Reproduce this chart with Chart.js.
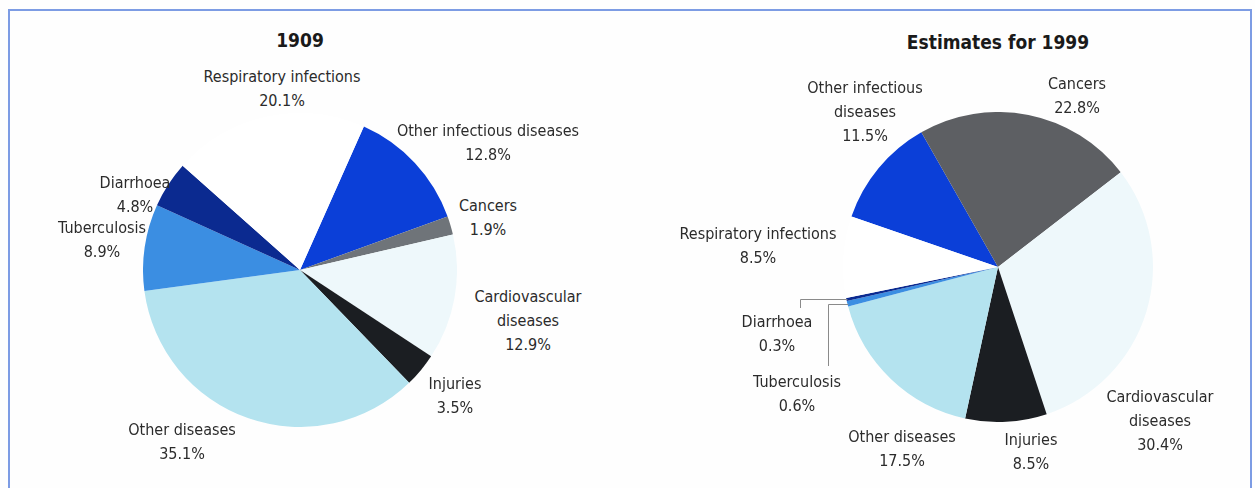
<!DOCTYPE html>
<html>
<head>
<meta charset="utf-8">
<script src="https://cdn.jsdelivr.net/npm/chart.js@4.4.0/dist/chart.umd.min.js"></script>
<style>
    body { margin: 0; background: #fff; }
    #wrap {
        position: relative; width: 1255px; height: 488px; overflow: hidden; background: #fefefe;
        font-family: "Liberation Sans Narrow", "DejaVu Sans Condensed", sans-serif; color: #2b2b2b;
    }
    #frame {
        position: absolute; left: 8px; top: 9px; width: 1240px; height: 600px;
        border: 2px solid #7d9ce4; border-bottom: none;
    }
    canvas { position: absolute; }
    .lbl {
        position: absolute; font-size: 16px; line-height: 24px; text-align: center;
        white-space: nowrap; transform: translateX(-50%);
    }
    .title {
        position: absolute; font-weight: bold; font-size: 19px; color: #1a1a1a;
        white-space: nowrap; transform: translate(-50%, -50%);
    }
</style>
</head>
<body>
<div id="wrap">
    <div id="frame"></div>
    <canvas id="pie1909" width="314" height="314" style="left:143px;top:113px"></canvas>
    <canvas id="pie1999" width="480" height="310" style="left:760px;top:112px"></canvas>
</div>
<script>
// causes of death, in clockwise order from the start angle
const causes = [
    'Other infectious diseases', 'Cancers', 'Cardiovascular diseases', 'Injuries',
    'Other diseases', 'Tuberculosis', 'Diarrhoea', 'Respiratory infections'
];
const share1909 = [12.8, 1.9, 12.9, 3.5, 35.1, 8.9, 4.8, 20.1];
const share1999 = [11.5, 22.8, 30.4, 8.5, 17.5, 0.6, 0.3, 8.5];

// label text as printed (line breaks differ between the two pies)
const labels1909 = [
    'Other infectious diseases', 'Cancers', 'Cardiovascular<br>diseases', 'Injuries',
    'Other diseases', 'Tuberculosis', 'Diarrhoea', 'Respiratory infections'
];
const labels1999 = [
    'Other infectious<br>diseases', 'Cancers', 'Cardiovascular<br>diseases', 'Injuries',
    'Other diseases', 'Tuberculosis', 'Diarrhoea', 'Respiratory infections'
];

const colors1909 = ['#0b3fd8', '#6f7479', '#eef8fb', '#1b1e22', '#b4e3ef', '#3b8ee2', '#0b2a90', '#ffffff'];
const colors1999 = ['#0b3fd8', '#5d5f63', '#eef8fb', '#1b1e22', '#b4e3ef', '#3b8ee2', '#0b2a90', '#ffffff'];

// label anchors: centre x, middle of first line
const labelPos1909 = [[488, 131], [488, 206], [528, 297], [455, 384], [182, 430], [102, 228], [135, 183], [282, 77]];
const labelPos1999 = [[865, 88], [1077, 84], [1160, 397], [1031, 440], [902, 437], [797, 382], [777, 322], [758, 234]];

// leader lines for the thin 1999 slices: index -> elbow x, end y (page coords)
const leaders1999 = { 5: [828, 366], 6: [800, 308] };

const wrap = document.getElementById('wrap');

function addTitle(text, x, y) {
    const el = document.createElement('div');
    el.className = 'title';
    el.textContent = text;
    el.style.left = x + 'px';
    el.style.top = y + 'px';
    wrap.appendChild(el);
}

function addLabels(labels, values, pos) {
    labels.forEach((name, i) => {
        const el = document.createElement('div');
        el.className = 'lbl';
        el.innerHTML = name + '<br>' + values[i].toFixed(1) + '%';
        el.style.left = pos[i][0] + 'px';
        el.style.top = (pos[i][1] - 12) + 'px';
        wrap.appendChild(el);
    });
}

const leaderPlugin = {
    id: 'leaders',
    afterDatasetsDraw(chart, args, opts) {
        if (!opts.lines) return;
        const { ctx, canvas } = chart;
        const offX = canvas.offsetLeft, offY = canvas.offsetTop;
        const arcs = chart.getDatasetMeta(0).data;
        ctx.save();
        ctx.strokeStyle = '#8a8a8a';
        ctx.lineWidth = 1;
        Object.keys(opts.lines).forEach(k => {
            const a = arcs[k];
            const mid = (a.startAngle + a.endAngle) / 2;
            const px = a.x + Math.cos(mid) * (a.outerRadius - 1);
            const py = Math.round(a.y + Math.sin(mid) * (a.outerRadius - 1)) + 0.5;
            const [ex, ey] = opts.lines[k];
            ctx.beginPath();
            ctx.moveTo(px, py);
            ctx.lineTo(ex - offX + 0.5, py);
            ctx.lineTo(ex - offX + 0.5, ey - offY);
            ctx.stroke();
        });
        ctx.restore();
    }
};

function makePie(id, values, colors, rotation, padding, lines) {
    return new Chart(document.getElementById(id), {
        type: 'pie',
        data: {
            labels: causes,
            datasets: [{
                data: values,
                backgroundColor: colors,
                borderWidth: 0,
                hoverOffset: 0
            }]
        },
        options: {
            responsive: false,
            animation: false,
            rotation: rotation,
            layout: { padding: padding },
            plugins: {
                legend: { display: false },
                tooltip: { enabled: false },
                leaders: { lines: lines }
            }
        },
        plugins: [leaderPlugin]
    });
}

makePie('pie1909', share1909, colors1909, 24, 0, null);
makePie('pie1999', share1999, colors1999, -71, { left: 83, right: 87, top: 0, bottom: 0 }, leaders1999);

addTitle('1909', 300, 40);
addTitle('Estimates for 1999', 998, 42);
addLabels(labels1909, share1909, labelPos1909);
addLabels(labels1999, share1999, labelPos1999);
</script>
</body>
</html>
